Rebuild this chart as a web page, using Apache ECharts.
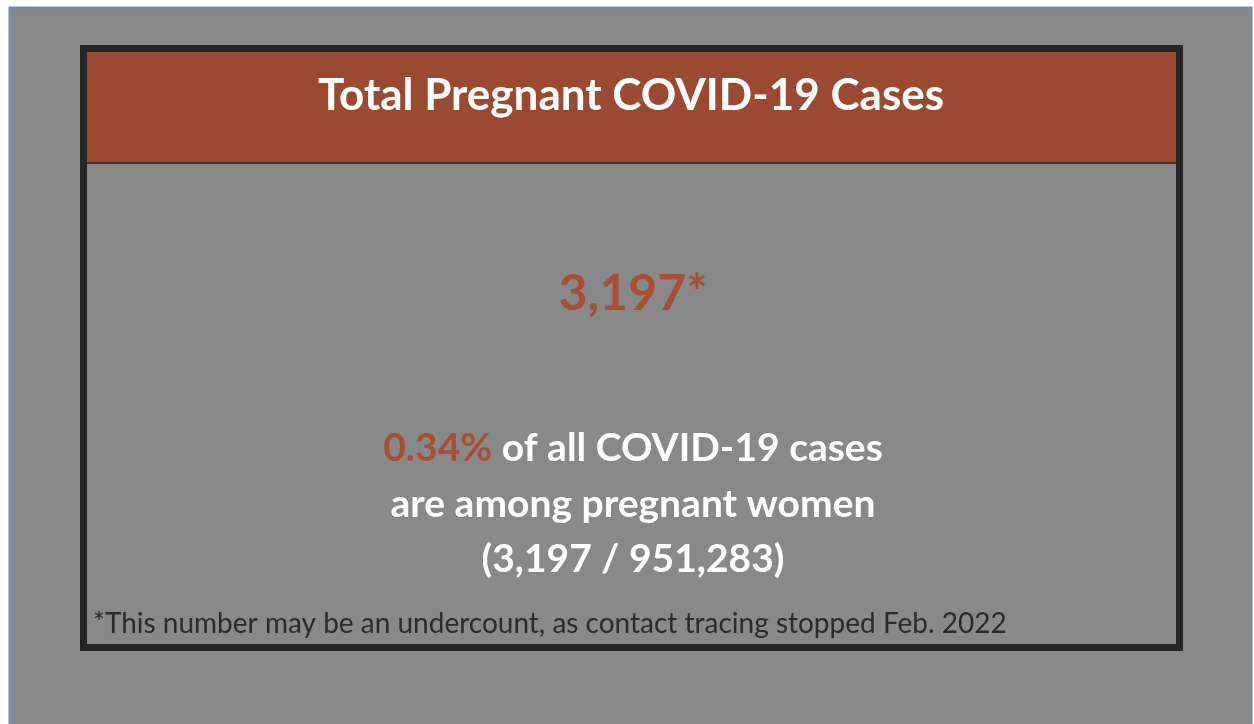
<!DOCTYPE html>
<html>
<head>
<meta charset="utf-8">
<title>Total Pregnant COVID-19 Cases</title>
<script src="https://cdn.jsdelivr.net/npm/echarts@6/dist/echarts.min.js"></script>
<style>
  html, body { margin: 0; padding: 0; background: #ffffff; }
  #main { width: 1254px; height: 724px; }
</style>
</head>
<body>
<div id="main"></div>
<script>
// card texts and numbers
var titleText = ['Total Pregnant COVID-19 Cases'];
var pregnantCases = [3197];
var totalCases = [951283];
var percentShare = [0.34];
var noteText = ['*This number may be an undercount, as contact tracing stopped Feb. 2022'];

var fontName = 'Lato, "Open Sans", sans-serif';
var brown = '#9a4a33';
var accent = '#a84f35';

function fmt(n) {
  return n.toLocaleString('en-US');
}

var chart = echarts.init(document.getElementById('main'), null, { renderer: 'canvas' });

var option = {
  animation: false,
  graphic: [
    // page background
    { type: 'rect', shape: { x: 9.5, y: 7.5, width: 1242, height: 720 },
      style: { fill: '#898989', stroke: '#7088b8', lineWidth: 2 } },
    // card frame
    { type: 'rect', shape: { x: 83.5, y: 48.5, width: 1096, height: 599 },
      style: { fill: '#898989', stroke: '#262626', lineWidth: 7 } },
    // header band
    { type: 'rect', shape: { x: 87, y: 52, width: 1089, height: 111 },
      style: { fill: brown } },
    { type: 'rect', shape: { x: 87, y: 162, width: 1089, height: 2 },
      style: { fill: '#4a3028' } },
    // title
    { type: 'text', x: 631, y: 96,
      style: { text: titleText[0], fill: '#ffffff', font: 'bold 44px ' + fontName,
        textAlign: 'center', textVerticalAlign: 'middle' } },
    // big number
    { type: 'text', x: 633, y: 294,
      style: { text: fmt(pregnantCases[0]) + '*', fill: accent, font: 'bold 50px ' + fontName,
        textAlign: 'center', textVerticalAlign: 'middle' } },
    // share lines
    { type: 'text', x: 633, y: 448,
      style: {
        text: '{a|' + percentShare[0].toFixed(2) + '%}{b| of all COVID-19 cases}',
        textAlign: 'center', textVerticalAlign: 'middle',
        rich: {
          a: { fill: accent, font: 'bold 39px ' + fontName },
          b: { fill: '#ffffff', font: 'bold 39px ' + fontName }
        }
      } },
    { type: 'text', x: 633, y: 504,
      style: { text: 'are among pregnant women', fill: '#ffffff', font: 'bold 39px ' + fontName,
        textAlign: 'center', textVerticalAlign: 'middle' } },
    { type: 'text', x: 633, y: 559,
      style: { text: '(' + fmt(pregnantCases[0]) + ' / ' + fmt(totalCases[0]) + ')', fill: '#ffffff',
        font: 'bold 39px ' + fontName, textAlign: 'center', textVerticalAlign: 'middle' } },
    // footnote
    { type: 'text', x: 93, y: 624,
      style: { text: noteText[0], fill: '#2b2b2b', font: '28px ' + fontName,
        textAlign: 'left', textVerticalAlign: 'middle' } }
  ]
};

chart.setOption(option);
</script>
</body>
</html>
